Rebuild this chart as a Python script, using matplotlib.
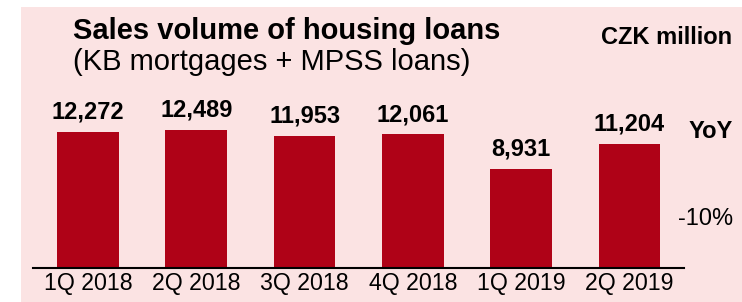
import matplotlib.pyplot as plt
from matplotlib.patches import Rectangle

plt.rcParams['font.family'] = ['Liberation Sans', 'DejaVu Sans']

# data
quarters = ['1Q 2018', '2Q 2018', '3Q 2018', '4Q 2018', '1Q 2019', '2Q 2019']
volumes = [12272, 12489, 11953, 12061, 8931, 11204]
yoy_label = '-10%'

pink = '#fbe3e3'
red = '#af0217'

fig = plt.figure(figsize=(7.42, 3.02), dpi=100)
bg = fig.add_axes([21/742, 0, 1 - 21/742, 295/302], zorder=-5)
bg.set_facecolor(pink)
bg.axis('off')
bg.add_patch(Rectangle((0, 0), 1, 1, transform=bg.transAxes, color=pink))

ax = fig.add_axes([33/742, 34/302, 651/742, 261/302])
ax.set_facecolor('none')
x = range(len(quarters))
bars = ax.bar(x, volumes, width=0.57, color=red, zorder=2)
for xi, v in zip(x, volumes):
    ax.annotate(f'{v:,}', (xi, v), xytext=(0, 6), textcoords='offset points',
                ha='center', va='bottom', fontsize=17, fontweight='bold')

ax.set_xlim(-0.508, 5.503)
ax.set_ylim(0, 23560)
ax.set_xticks(list(x))
ax.set_xticklabels(quarters, fontsize=16.7)
ax.tick_params(axis='x', length=0, pad=3)
ax.set_yticks([])
for s in ['top', 'right', 'left']:
    ax.spines[s].set_visible(False)
ax.spines['bottom'].set_linewidth(1.5)

fig.text(73/742, 1 - 39/302, 'Sales volume of housing loans', fontsize=21,
         fontweight='bold', va='baseline')
fig.text(73/742, 1 - 70/302, '(KB mortgages + MPSS loans)', fontsize=21,
         va='baseline')
fig.text(732/742, 1 - 44/302, 'CZK million', fontsize=17, fontweight='bold',
         ha='right', va='baseline')
fig.text(733/742, 1 - 138/302, 'YoY', fontsize=17, fontweight='bold',
         ha='right', va='baseline')
fig.text(733/742, 1 - 219/302, yoy_label, fontsize=17, ha='right', va='center')

plt.savefig('out.png', dpi=100)
